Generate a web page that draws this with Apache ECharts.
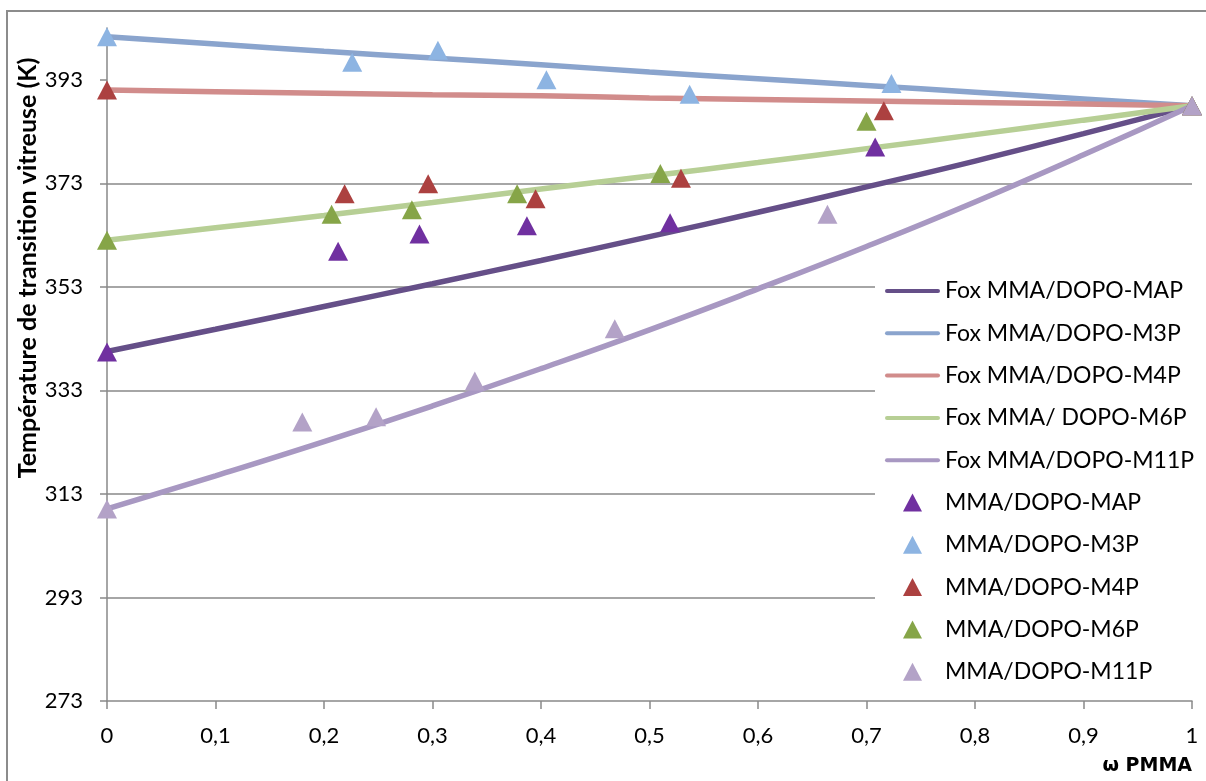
<!DOCTYPE html>
<html>
<head>
<meta charset="utf-8">
<script src="https://cdn.jsdelivr.net/npm/echarts@6/dist/echarts.min.js"></script>
<style>
  html, body { margin: 0; padding: 0; background: #fff; }
  #chart { width: 1206px; height: 781px; }
</style>
</head>
<body>
<div id="chart"></div>
<script>
// ---- Data ----
const xTickLabels = ['0', '0,1', '0,2', '0,3', '0,4', '0,5', '0,6', '0,7', '0,8', '0,9', '1'];
const yTicks = [273, 293, 313, 333, 353, 373, 393];

const foxX = [0, 0.1, 0.2, 0.3, 0.4, 0.5, 0.6, 0.7, 0.8, 0.9, 1];
const foxMAP  = [340.5, 344.8, 349.2, 353.6, 358.1, 362.7, 367.4, 372.3, 377.3, 382.6, 388];
const foxM3P  = [401.3, 399.9, 398.5, 397.2, 395.9, 394.5, 393.2, 391.9, 390.6, 389.3, 388];
const foxM4P  = [391.0, 390.7, 390.4, 390.1, 389.9, 389.5, 389.2, 388.9, 388.6, 388.3, 388];
const foxM6P  = [362.0, 364.4, 366.8, 369.3, 371.9, 374.4, 377.0, 379.7, 382.4, 385.2, 388];
const foxM11P = [310.1, 316.5, 323.1, 330.0, 337.2, 344.7, 352.6, 360.8, 369.4, 378.5, 388];

const mapX  = [0, 0.213, 0.288, 0.387, 0.519, 0.708, 1];
const mapY  = [340.4, 359.9, 363.2, 364.8, 365.4, 380.0, 388];
const m3pX  = [0, 0.226, 0.305, 0.405, 0.537, 0.723, 1];
const m3pY  = [401.3, 396.4, 398.7, 393.0, 390.2, 392.3, 388];
const m4pX  = [0, 0.219, 0.296, 0.395, 0.529, 0.716, 1];
const m4pY  = [391.0, 371.0, 372.9, 370.0, 374.0, 387.0, 388];
const m6pX  = [0, 0.207, 0.281, 0.378, 0.510, 0.700, 1];
const m6pY  = [362.0, 367.0, 367.9, 371.0, 374.9, 385.0, 388];
const m11pX = [0, 0.180, 0.248, 0.339, 0.468, 0.664, 1];
const m11pY = [310.1, 326.9, 327.9, 334.8, 344.9, 367.0, 388];

const lineNames = ['Fox MMA/DOPO-MAP', 'Fox MMA/DOPO-M3P', 'Fox MMA/DOPO-M4P', 'Fox MMA/ DOPO-M6P', 'Fox MMA/DOPO-M11P'];
const pointNames = ['MMA/DOPO-MAP', 'MMA/DOPO-M3P', 'MMA/DOPO-M4P', 'MMA/DOPO-M6P', 'MMA/DOPO-M11P'];

// ---- Styles ----
const FONT = 'Lato';
const GRID_GRAY = '#898989';
const lineColors = ['#654f88', '#8aa4cd', '#d18c8b', '#b7cf95', '#a898c2'];
const pointColors = ['#7030a0', '#8db4e2', '#ac4140', '#86a548', '#b3a2c7'];
const LINE_ICON = 'path://M2,0L53,0A2,2,0,0,1,53,4L2,4A2,2,0,0,1,2,0Z';
const TRI_ICON = 'path://M9.5,0L19,18L0,18Z';

const zip = (xs, ys) => xs.map((x, i) => [x, ys[i]]);
const foxSets = [foxMAP, foxM3P, foxM4P, foxM6P, foxM11P];
const pointSets = [[mapX, mapY], [m3pX, m3pY], [m4pX, m4pY], [m6pX, m6pY], [m11pX, m11pY]];

const series = [];
foxSets.forEach((ys, i) => {
  series.push({
    name: lineNames[i],
    type: 'line',
    data: zip(foxX, ys),
    smooth: true,
    symbol: 'none',
    showSymbol: false,
    lineStyle: { color: lineColors[i], width: 5.5, cap: 'round' },
    itemStyle: { color: lineColors[i] },
    z: 2
  });
});
pointSets.forEach((p, i) => {
  series.push({
    name: pointNames[i],
    type: 'scatter',
    data: zip(p[0], p[1]),
    symbol: 'triangle',
    symbolSize: [20, 19],
    itemStyle: { color: pointColors[i], opacity: 1 },
    z: 3
  });
});

const chart = echarts.init(document.getElementById('chart'), null, { renderer: 'canvas' });
chart.setOption({
  animation: false,
  backgroundColor: '#fff',
  grid: { left: 107, right: 14, top: 28, bottom: 80, containLabel: false },
  xAxis: {
    type: 'value',
    min: 0, max: 1, interval: 0.1,
    axisLine: { show: true, lineStyle: { color: GRID_GRAY, width: 1.5 } },
    axisTick: { show: true, inside: false, length: 8, lineStyle: { color: GRID_GRAY, width: 1.5 } },
    splitLine: { show: false },
    axisLabel: {
      margin: 24,
      color: '#000',
      fontFamily: FONT,
      fontSize: 22,
      formatter: v => xTickLabels[Math.round(v * 10)]
    }
  },
  yAxis: {
    type: 'value',
    min: 273, max: 403, interval: 20,
    axisLine: { show: true, lineStyle: { color: GRID_GRAY, width: 1.5 } },
    axisTick: { show: true, inside: false, length: 7, customValues: yTicks, lineStyle: { color: GRID_GRAY, width: 1.5 } },
    splitLine: { show: true, showMaxLine: false, showMinLine: false, lineStyle: { color: GRID_GRAY, width: 1.5 } },
    axisLabel: {
      margin: 24,
      color: '#000',
      fontFamily: FONT,
      fontSize: 22,
      customValues: yTicks,
      formatter: v => String(v)
    }
  },
  legend: {
    orient: 'vertical',
    left: 875,
    top: 270,
    padding: [9, 20, 6, 10],
    backgroundColor: '#fff',
    itemWidth: 55,
    itemHeight: 18,
    itemGap: 18.3,
    selectedMode: false,
    symbolKeepAspect: true,
    itemStyle: { borderWidth: 0 },
    textStyle: { fontFamily: FONT, fontSize: 23, color: '#000', lineHeight: 24 },
    data: lineNames.map(n => ({ name: n, icon: LINE_ICON }))
      .concat(pointNames.map(n => ({ name: n, icon: TRI_ICON })))
  },
  graphic: [
    {
      type: 'rect',
      silent: true,
      z: -10,
      shape: { x: 7, y: 11, width: 1260, height: 860 },
      style: { fill: 'none', stroke: '#8c8c8c', lineWidth: 2 }
    },
    {
      type: 'text',
      x: 28, y: 268,
      rotation: Math.PI / 2,
      style: {
        text: 'Température de transition vitreuse (K)',
        fontFamily: FONT, fontWeight: 'bold', fontSize: 25,
        fill: '#000', align: 'center', verticalAlign: 'middle'
      }
    },
    {
      type: 'text',
      x: 1192, y: 766,
      style: {
        text: 'ω PMMA',
        fontFamily: 'DejaVu Sans', fontWeight: 'bold', fontSize: 19,
        fill: '#000', align: 'right', verticalAlign: 'middle'
      }
    }
  ],
  series: series
});
</script>
</body>
</html>
